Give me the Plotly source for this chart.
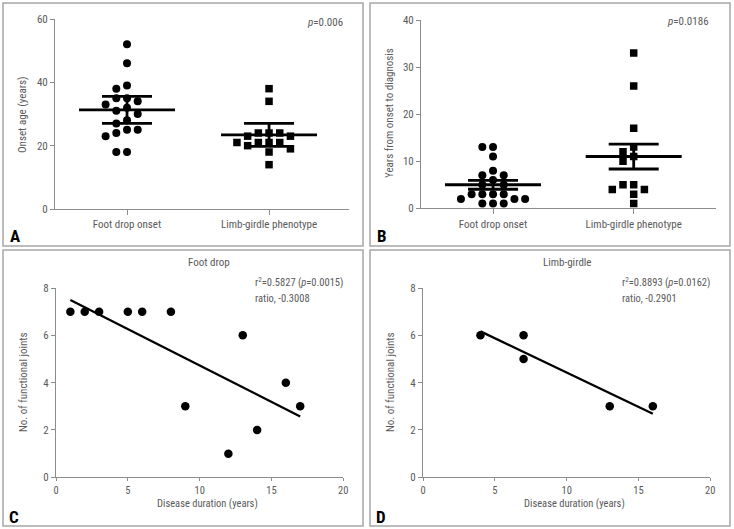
import numpy as np
import plotly.graph_objects as go

W, H = 734, 529

# ---------------- data ----------------
groups = ["Foot drop onset", "Limb-girdle phenotype"]

onset_foot = [52, 46, 39, 38, 35, 35, 34, 33, 32, 31, 30, 28, 27, 25, 25, 24, 23, 18, 18]
onset_limb = [38, 34, 24, 24, 24, 23, 23, 21, 21, 21, 21, 20, 19, 18, 14]
onset_mean = [31.3, 23.4]
onset_err = [4.25, 3.65]

diag_foot = [13, 13, 11, 8, 7, 7, 6, 5, 5, 3, 3, 3, 3, 2, 2, 2, 1, 1, 1]
diag_limb = [33, 26, 17, 13, 12, 11, 10, 5, 5, 4, 4, 3, 1]
diag_mean = [5.0, 11.0]
diag_err = [0.95, 2.65]

fd_duration = [1, 2, 3, 5, 6, 8, 9, 12, 13, 14, 16, 17]
fd_joints = [7, 7, 7, 7, 7, 7, 3, 1, 6, 2, 4, 3]
lg_duration = [4, 7, 7, 13, 16]
lg_joints = [6, 6, 5, 3, 3]

FONT = "Liberation Sans Narrow, Roboto Condensed, Roboto, sans-serif"
AXC = "#8c8c8c"
TXT = "#5a5a5a"


def px(x):
    return x / W


def py(y):
    return 1 - y / H


# pixel geometry of the four plotting areas: (left, right, top, bottom)
geo = {
    "A": (55, 349, 19, 209),
    "B": (421, 716, 20, 208.3),
    "C": (56, 343.3, 288, 477.3),
    "D": (423, 710.3, 288, 477.3),
}
xr = {"A": [-0.507, 1.563], "B": [-0.512, 1.585], "C": [0, 20], "D": [0, 20]}
yr = {"A": [0, 60], "B": [0, 40], "C": [0, 8], "D": [0, 8]}
axn = {"A": "", "B": "2", "C": "3", "D": "4"}


def unit_px(p):
    l, r, t, b = geo[p]
    return (r - l) / (xr[p][1] - xr[p][0]), (b - t) / (yr[p][1] - yr[p][0])


def swarm(values, center, p, step=10.7, mind=8.5):
    ux, uy = unit_px(p)
    placed, xs = [], []
    order = [0]
    for k in range(1, 8):
        order += [-k, k]
    for v in values:
        yp = v * uy
        for k in order:
            xp = k * step
            if all((xp - a) ** 2 + (yp - b) ** 2 >= mind ** 2 for a, b in placed):
                break
        placed.append((xp, yp))
        xs.append(center + xp / ux)
    return xs


fig = go.Figure()


def add(tr, p):
    n = axn[p]
    tr.update(xaxis="x" + n, yaxis="y" + n)
    fig.add_trace(tr)


def dot_panel(p, foot, limb, means, errs):
    ux, uy = unit_px(p)
    add(go.Scatter(x=swarm(foot, 0, p), y=foot, mode="markers",
                   marker=dict(symbol="circle", size=8, color="black")), p)
    add(go.Scatter(x=swarm(limb, 1, p), y=limb, mode="markers",
                   marker=dict(symbol="square", size=7.5, color="black")), p)
    hm = 48 / ux
    hc = 25 / ux
    xs, ys = [], []
    for c, m, e in zip([0, 1], means, errs):
        xs += [c - hm, c + hm, None, c - hc, c + hc, None, c - hc, c + hc, None, c, c, None]
        ys += [m, m, None, m + e, m + e, None, m - e, m - e, None, m - e, m + e, None]
    add(go.Scatter(x=xs, y=ys, mode="lines", line=dict(color="black", width=2.8)), p)


dot_panel("A", onset_foot, onset_limb, onset_mean, onset_err)
dot_panel("B", diag_foot, diag_limb, diag_mean, diag_err)


def reg_panel(p, xv, yv):
    add(go.Scatter(x=xv, y=yv, mode="markers",
                   marker=dict(symbol="circle", size=8.5, color="black")), p)
    k, b = np.polyfit(xv, yv, 1)
    x0, x1 = min(xv), max(xv)
    add(go.Scatter(x=[x0, x1], y=[k * x0 + b, k * x1 + b], mode="lines",
                   line=dict(color="black", width=2.3)), p)


reg_panel("C", fd_duration, fd_joints)
reg_panel("D", lg_duration, lg_joints)

layout = dict(
    width=W, height=H, autosize=False,
    margin=dict(l=0, r=0, t=0, b=0, pad=0, autoexpand=False),
    paper_bgcolor="white", plot_bgcolor="white",
    showlegend=False,
    font=dict(family=FONT, color=TXT, size=11),
)

for p in "ABCD":
    l, r, t, b = geo[p]
    n = axn[p]
    xa = dict(domain=[px(l), px(r)], range=xr[p], showline=True, linecolor=AXC,
              linewidth=1, ticks="outside", ticklen=4, tickcolor=AXC, showgrid=False,
              zeroline=False, anchor="y" + n, automargin=False,
              tickfont=dict(size=11, color=TXT))
    ya = dict(domain=[py(b), py(t)], range=yr[p], showline=True, linecolor=AXC,
              linewidth=1, ticks="outside", ticklen=4, tickcolor=AXC, showgrid=False,
              zeroline=False, anchor="x" + n, automargin=False,
              tickfont=dict(size=11, color=TXT))
    if p in "AB":
        xa.update(tickmode="array", tickvals=[0, 1], ticktext=groups, ticklen=5)
        ya.update(dtick=20 if p == "A" else 10)
    else:
        xa.update(dtick=5, ticklen=3, tickfont=dict(size=10.5, color=TXT))
        ya.update(dtick=2)
    layout["xaxis" + n] = xa
    layout["yaxis" + n] = ya

fig.update_layout(**layout)

# panel borders
for (x0, x1, y0, y1) in [(3, 363, 3, 246), (370, 730, 3, 246),
                         (3, 363, 250, 526), (370, 730, 250, 526)]:
    fig.add_shape(type="rect", xref="paper", yref="paper",
                  x0=px(x0), x1=px(x1), y0=py(y1), y1=py(y0),
                  line=dict(color="#a6a6a6", width=1.5), fillcolor="rgba(0,0,0,0)")


def txt(x, y, s, size=11, xanchor="center", color=TXT, angle=0, bold=False):
    if bold:
        s = "<b>" + s + "</b>"
    fig.add_annotation(x=px(x), y=py(y), xref="paper", yref="paper", text=s,
                       showarrow=False, xanchor=xanchor, yanchor="middle",
                       textangle=angle, font=dict(size=size, color=color, family=FONT))


# axis titles
txt(23, 115, "Onset age (years)", angle=-90)
txt(389, 113, "Years from onset to diagnosis", angle=-90)
txt(23, 382, "No. of functional joints", angle=-90)
txt(390, 382, "No. of functional joints", angle=-90)
txt(207, 503, "Disease duration (years)", size=10.5)
txt(574, 503, "Disease duration (years)", size=10.5)

# statistics
txt(345, 23, "<i>p</i>=0.006", xanchor="right")
txt(711, 22, "<i>p</i>=0.0186", xanchor="right")
txt(209, 262, "Foot drop")
txt(567, 262, "Limb-girdle")
txt(253, 282, "r<sup>2</sup>=0.5827 (<i>p</i>=0.0015)", xanchor="left", size=10.5)
txt(253, 298, "ratio, -0.3008", xanchor="left", size=10.5)
txt(620, 282, "r<sup>2</sup>=0.8893 (<i>p</i>=0.0162)", xanchor="left", size=10.5)
txt(620, 298, "ratio, -0.2901", xanchor="left", size=10.5)

# panel letters
txt(15, 236, "A", size=17, color="black", bold=True)
txt(382, 236, "B", size=17, color="black", bold=True)
txt(14, 517, "C", size=17, color="black", bold=True)
txt(381, 517, "D", size=17, color="black", bold=True)

fig.write_html("out.html", config={"displayModeBar": False},
               post_script="document.body.style.margin='0';document.body.style.padding='0';")
